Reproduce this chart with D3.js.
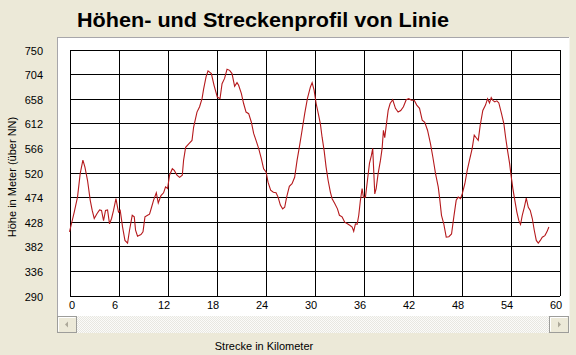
<!DOCTYPE html>
<html><head><meta charset="utf-8">
<script src="https://cdn.jsdelivr.net/npm/d3@7"></script>
<style>
html,body{margin:0;padding:0;background:#ECE9D8;}
svg{display:block;font-family:"Liberation Sans",Arial,sans-serif;}
</style></head><body>
<svg id="c" width="576" height="355"></svg>
<script>
const chartTitle = "Höhen- und Streckenprofil von Linie";
const xTitle = "Strecke in Kilometer";
const yTitle = "Höhe in Meter (über NN)";
const kmTicks = [0, 6, 12, 18, 24, 30, 36, 42, 48, 54, 60];
const heightTicks = [290, 336, 382, 428, 474, 520, 566, 612, 658, 704, 750];
const profileKm = [0,0.58,0.98,1.31,1.64,1.89,2.21,2.54,2.78,3.03,3.36,3.68,3.92,4.17,4.41,4.66,4.9,5.15,5.39,5.69,5.88,6,6.21,6.5,6.79,7.11,7.35,7.68,7.93,8.09,8.33,8.75,9,9.24,9.56,9.8,10.05,10.29,10.63,10.87,11.2,11.52,11.76,12.01,12.25,12.59,12.83,13.16,13.48,13.81,13.97,14.22,14.63,15,15.2,15.61,15.93,16.23,16.42,16.72,16.96,17.37,17.7,18.1,18.43,18.68,18.99,19.29,19.61,19.9,20.22,20.51,20.71,21.04,21.32,21.62,21.94,22.27,22.55,22.84,23.16,23.49,23.77,24.07,24.31,24.63,24.96,25.29,25.54,25.82,26.1,26.35,26.59,26.92,27.25,27.57,27.87,28.15,28.48,28.8,29.13,29.5,29.71,29.95,30.2,30.51,30.72,30.93,31.18,31.42,31.67,31.95,32.16,32.48,32.81,33.05,33.38,33.7,34.03,34.36,34.61,34.8,35.01,35.22,35.42,35.62,35.83,35.99,36.24,36.48,36.73,36.97,37.13,37.25,37.38,37.55,37.79,38.08,38.28,38.44,38.6,38.81,39.02,39.26,39.58,39.91,40.24,40.56,40.89,41.23,41.54,41.87,42.21,42.52,42.86,43.19,43.5,43.84,44.2,44.49,44.82,45.15,45.31,45.55,45.83,46.13,46.45,46.78,47.06,47.35,47.6,47.88,48.09,48.41,48.7,48.98,49.31,49.56,49.8,50.05,50.29,50.61,50.94,51.19,51.43,51.64,51.84,52.08,52.33,52.57,52.9,53.19,53.4,53.64,53.89,54.04,54.29,54.53,54.78,55.02,55.23,55.44,55.69,55.93,56.18,56.42,56.67,56.91,57.16,57.4,57.65,57.89,58.21,58.46,58.7];
const profileHeight = [409,446,474,518,543,530,505,468,449,434,443,450,449,430,449,450,424,434,449,471,455,446,449,418,393,388,412,440,437,412,401,404,409,437,440,442,455,468,482,463,477,482,493,490,515,527,524,515,511,515,543,567,574,580,605,633,643,658,676,699,710,705,683,661,658,686,696,713,711,705,681,688,683,668,649,633,630,614,593,580,565,546,527,521,502,487,483,482,474,459,452,455,474,494,499,511,543,568,599,630,658,680,688,674,649,627,611,586,561,530,505,483,471,462,452,440,437,427,424,421,418,410,424,423,440,468,490,474,474,505,537,552,565,524,480,490,518,543,565,599,585,611,636,649,656,640,633,636,643,656,658,655,655,646,640,618,614,599,574,549,518,493,474,440,424,399,400,405,437,468,474,471,480,499,524,543,565,590,585,580,608,636,646,658,650,660,655,652,654,650,630,611,586,561,537,518,490,468,446,430,423,440,455,472,455,449,434,412,393,388,393,399,402,409,418];

const svg = d3.select("#c");
const x = d3.scaleLinear().domain([0, 60]).range([69.5, 559.5]);
const y = d3.scaleLinear().domain([290, 750]).range([295.5, 49.5]);

// title
svg.append("text").attr("x", 77).attr("y", 27)
  .attr("font-size", 21).attr("font-weight", "bold").attr("fill", "#000")
  .attr("textLength", 372).attr("lengthAdjust", "spacingAndGlyphs")
  .text(chartTitle);

// panel
svg.append("rect").attr("x", 57).attr("y", 37).attr("width", 513).attr("height", 296).attr("fill", "#fff");
svg.append("line").attr("x1", 57).attr("x2", 570).attr("y1", 37.5).attr("y2", 37.5).attr("stroke", "#A7A6AA");
svg.append("line").attr("x1", 57.5).attr("x2", 57.5).attr("y1", 37).attr("y2", 333).attr("stroke", "#A7A6AA");
svg.append("line").attr("x1", 569.5).attr("x2", 569.5).attr("y1", 37).attr("y2", 333).attr("stroke", "#F5F4EE");

// scrollbar
const defs = svg.append("defs");
const pat = defs.append("pattern").attr("id", "hatch").attr("width", 2).attr("height", 2).attr("patternUnits", "userSpaceOnUse");
pat.append("rect").attr("width", 2).attr("height", 2).attr("fill", "#FBFBF9");
pat.append("rect").attr("width", 1).attr("height", 1).attr("fill", "#E8E7E1");
pat.append("rect").attr("x", 1).attr("y", 1).attr("width", 1).attr("height", 1).attr("fill", "#E8E7E1");
svg.append("rect").attr("x", 58).attr("y", 316).attr("width", 511).attr("height", 17).attr("fill", "url(#hatch)");
function button(bx, dir) {
  svg.append("rect").attr("x", bx + 0.5).attr("y", 316.5).attr("width", 19).attr("height", 16)
    .attr("fill", "#ECE9D8").attr("stroke", "#9D9D9A");
  svg.append("line").attr("x1", bx + 1.5).attr("x2", bx + 18.5).attr("y1", 317.5).attr("y2", 317.5).attr("stroke", "#fff");
  svg.append("line").attr("x1", bx + 1.5).attr("x2", bx + 1.5).attr("y1", 317.5).attr("y2", 331.5).attr("stroke", "#fff");
  const cx = bx + 10, cy = 324.5;
  const pts = dir < 0 ? [[cx - 2, cy], [cx + 1, cy - 3], [cx + 1, cy + 3]] : [[cx + 2, cy], [cx - 1, cy - 3], [cx - 1, cy + 3]];
  svg.append("polygon").attr("points", pts.map(p => p.join(",")).join(" ")).attr("fill", "#ACA899");
}
button(57, -1);
button(549, 1);

// grid
const g = svg.append("g");
g.append("g").attr("transform", "translate(0,0)")
  .call(d3.axisLeft(y).tickValues(heightTicks).tickSize(-(x.range()[1] - x.range()[0])).tickFormat(""))
  .attr("transform", `translate(${x.range()[0]},0)`)
  .call(s => s.select(".domain").remove())
  .selectAll("line").attr("stroke", "#000").attr("shape-rendering", "crispEdges");
g.append("g")
  .call(d3.axisBottom(x).tickValues(kmTicks).tickSize(-(y.range()[0] - y.range()[1])).tickFormat(""))
  .attr("transform", `translate(0,${y.range()[0]})`)
  .call(s => s.select(".domain").remove())
  .selectAll("line").attr("stroke", "#000").attr("shape-rendering", "crispEdges");

// labels
const ya = svg.append("g").attr("transform", "translate(43,1)")
  .call(d3.axisLeft(y).tickValues(heightTicks).tickSize(0).tickPadding(0));
ya.select(".domain").remove();
ya.selectAll("text").attr("font-size", 11).attr("font-family", "Liberation Sans, Arial, sans-serif").attr("fill", "#000");

const xa = svg.append("g").attr("transform", "translate(0,301)")
  .call(d3.axisBottom(x).tickValues(kmTicks).tickSize(0).tickPadding(0));
xa.select(".domain").remove();
xa.selectAll("text").attr("font-size", 11).attr("font-family", "Liberation Sans, Arial, sans-serif").attr("fill", "#000")
  .attr("dx", d => d === 0 ? 2 : -4);

svg.append("text").attr("x", 264).attr("y", 350).attr("text-anchor", "middle")
  .attr("font-size", 11).text(xTitle);
svg.append("text").attr("transform", "translate(16,177) rotate(-90)").attr("text-anchor", "middle")
  .attr("font-size", 11).text(yTitle);

// profile line
const line = d3.line().x((d, i) => x(profileKm[i])).y(d => y(d));
svg.append("path").datum(profileHeight).attr("d", line)
  .attr("fill", "none").attr("stroke", "#B5191C").attr("stroke-width", 1.1);
</script>
</body></html>
